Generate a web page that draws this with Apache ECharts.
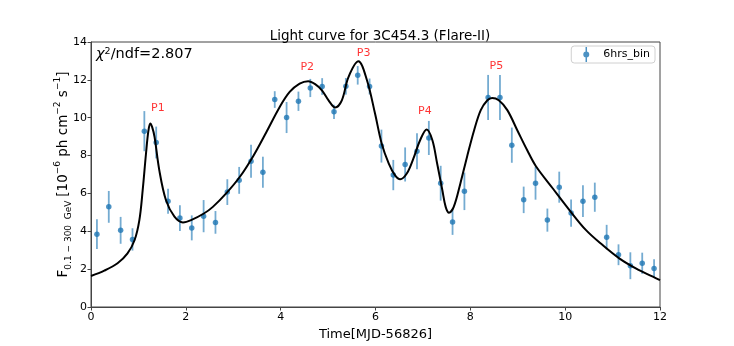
<!DOCTYPE html>
<html>
<head>
<meta charset="utf-8">
<script src="https://cdn.jsdelivr.net/npm/echarts@6/dist/echarts.min.js"></script>
<style>
html,body{margin:0;padding:0;background:#fff;}
#chart{width:734px;height:346px;}
</style>
</head>
<body>
<div id="chart"></div>
<script>
// ---- data ----
var times = [0.125,0.375,0.625,0.875,1.125,1.375,1.625,1.875,2.125,2.375,2.625,2.875,3.125,3.375,3.625,3.875,4.125,4.375,4.625,4.875,5.125,5.375,5.625,5.875,6.125,6.375,6.625,6.875,7.125,7.375,7.625,7.875,8.375,8.625,8.875,9.125,9.375,9.625,9.875,10.125,10.375,10.625,10.875,11.125,11.375,11.625,11.875];
var flux = [3.85,5.29,4.05,3.57,9.29,8.69,5.59,4.70,4.18,4.80,4.47,6.07,6.69,7.70,7.12,10.96,10.01,10.87,11.57,11.65,10.31,11.66,12.24,11.65,8.50,6.97,7.53,8.23,8.93,6.54,4.49,6.11,11.07,11.07,8.55,5.66,6.54,4.59,6.33,4.96,5.59,5.80,3.69,2.76,2.18,2.31,2.04];
var fluxErr = [0.78,0.84,0.71,0.59,1.06,0.84,0.66,0.68,0.66,0.85,0.60,0.68,0.71,0.87,0.82,0.44,0.82,0.51,0.48,0.44,0.38,0.44,0.49,0.42,0.87,0.80,0.90,0.95,0.90,0.92,0.68,0.99,1.19,1.19,0.93,0.70,0.87,0.61,0.82,0.72,0.84,0.77,0.65,0.55,0.71,0.56,0.48];
var fitX = [0,0.28,0.56,0.77,0.92,1.02,1.09,1.16,1.21,1.25,1.29,1.34,1.44,1.58,1.76,1.94,2.11,2.38,2.57,2.86,3.14,3.42,3.70,3.98,4.19,4.40,4.58,4.74,4.87,5.01,5.15,5.29,5.43,5.64,5.82,5.99,6.13,6.28,6.41,6.52,6.66,6.80,6.94,7.08,7.20,7.30,7.41,7.48,7.55,7.65,7.79,7.93,8.08,8.22,8.36,8.46,8.60,8.78,8.99,9.20,9.38,9.74,10.09,10.44,10.79,11.14,11.49,11.85,12];
var fitY = [1.64,1.92,2.31,2.83,3.54,4.59,6.17,8.11,9.30,9.69,9.50,8.99,7.23,5.65,4.77,4.47,4.59,4.94,5.29,6.03,6.88,7.97,9.25,10.57,11.36,11.80,11.93,11.75,11.45,10.92,10.54,10.92,12.15,12.98,11.98,10.22,8.64,7.58,6.97,6.75,7.05,7.85,8.81,9.38,8.81,7.58,6.17,5.29,4.98,5.29,6.53,7.93,9.34,10.40,10.92,11.04,10.92,10.40,9.34,8.28,7.45,6.26,5.12,4.06,3.27,2.57,2.04,1.60,1.42];
var peakNames = ['P1','P2','P3','P4','P5'];
var peakX = [1.41,4.56,5.75,7.04,8.55];
var peakY = [10.49,12.68,13.42,10.34,12.72];
var xTicks = [0,2,4,6,8,10,12];
var yTicks = [0,2,4,6,8,10,12,14];

// ---- build ----
var pts = [], bars = [], fit = [], peaks = [];
for (var i = 0; i < times.length; i++) {
  pts.push([times[i], flux[i]]);
  bars.push([times[i], flux[i] - fluxErr[i], flux[i] + fluxErr[i]]);
}
for (var j = 0; j < fitX.length; j++) fit.push([fitX[j], fitY[j]]);
for (var k = 0; k < peakNames.length; k++) peaks.push({value: [peakX[k], peakY[k]], name: peakNames[k]});

var FONT = 'DejaVu Sans';
var chart = echarts.init(document.getElementById('chart'), null, {renderer: 'canvas'});
chart.setOption({
  animation: false,
  backgroundColor: '#fff',
  textStyle: {fontFamily: FONT},
  title: {
    text: 'Light curve for 3C454.3 (Flare-II)',
    left: 375, top: 24, textAlign: 'center',
    textStyle: {fontFamily: FONT, fontSize: 13.5, fontWeight: 'normal', color: '#000'}
  },
  grid: {left: 91, right: 74, top: 42, bottom: 39, show: true, borderColor: '#444', borderWidth: 1, backgroundColor: 'transparent'},
  legend: {
    right: 79, top: 46,
    data: [{name: '6hrs_bin', icon: 'path://M9,0 L11,0 L11,20 L9,20 Z M10,6 A4,4 0 1 1 9.99,6 Z'}],
    itemWidth: 8, itemHeight: 15, itemGap: 10,
    padding: [1, 5, 1, 12],
    backgroundColor: '#fff', borderColor: '#d0d0d0', borderWidth: 1, borderRadius: 3,
    textStyle: {fontFamily: FONT, fontSize: 11, color: '#000', padding: [0, 0, 0, 8]}
  },
  graphic: [{
    type: 'text', left: 96, top: 47,
    style: {
      text: '{i|χ}{s|2}{n|/ndf=2.807}',
      rich: {
        i: {fontFamily: FONT, fontSize: 14.5, fontStyle: 'italic', fill: '#000', verticalAlign: 'bottom'},
        s: {fontFamily: FONT, fontSize: 9.5, fill: '#000', verticalAlign: 'top'},
        n: {fontFamily: FONT, fontSize: 14.5, fill: '#000', verticalAlign: 'bottom'}
      }
    }
  }],
  xAxis: {
    type: 'value', min: 0, max: 12, interval: 2,
    name: 'Time[MJD-56826]', nameLocation: 'middle', nameGap: 15,
    nameTextStyle: {fontFamily: FONT, fontSize: 13, color: '#000'},
    axisLine: {show: true, onZero: false, lineStyle: {color: '#444', width: 1}},
    axisTick: {show: true, length: 3.5, lineStyle: {color: '#444'}},
    axisLabel: {fontFamily: FONT, fontSize: 11, color: '#000', margin: 5,
      formatter: function (v) { return xTicks.indexOf(v) >= 0 ? String(v) : ''; }},
    splitLine: {show: false}
  },
  yAxis: {
    type: 'value', min: 0, max: 14, interval: 2,
    name: '{b|F}{sub|0.1 − 300  GeV} {b|[10}{sup|−6}{b| ph cm}{sup|−2}{b| s}{sup|−1}{b|]}',
    nameLocation: 'middle', nameGap: 18, nameRotate: 90, nameMoveOverlap: false,
    nameTextStyle: {
      rich: {
        b: {fontFamily: FONT, fontSize: 13.5, color: '#000', verticalAlign: 'middle', lineHeight: 20},
        sub: {fontFamily: FONT, fontSize: 9, color: '#000', verticalAlign: 'bottom', lineHeight: 20},
        sup: {fontFamily: FONT, fontSize: 9, color: '#000', verticalAlign: 'top', lineHeight: 20}
      }
    },
    axisLine: {show: true, lineStyle: {color: '#444', width: 1}},
    axisTick: {show: true, length: 3.5, lineStyle: {color: '#444'}},
    axisLabel: {fontFamily: FONT, fontSize: 11, color: '#000', margin: 4,
      formatter: function (v) { return yTicks.indexOf(v) >= 0 ? String(v) : ''; }},
    splitLine: {show: false}
  },
  series: [
    {
      type: 'custom', name: 'errbars', data: bars, z: 2, silent: true,
      encode: {x: 0, y: [1, 2]},
      renderItem: function (params, api) {
        var x = api.value(0);
        var a = api.coord([x, api.value(1)]);
        var b = api.coord([x, api.value(2)]);
        return {type: 'line', shape: {x1: a[0], y1: a[1], x2: b[0], y2: b[1]},
          style: {stroke: 'rgba(31,119,180,0.62)', lineWidth: 1.8}};
      }
    },
    {
      type: 'scatter', name: '6hrs_bin', data: pts, symbol: 'circle', symbolSize: 5.5, z: 3,
      itemStyle: {color: '#1f77b4'}
    },
    {
      type: 'line', name: 'fit', data: fit, smooth: 0.35, showSymbol: false, z: 4,
      lineStyle: {color: '#000', width: 2}
    },
    {
      type: 'scatter', name: 'peaks', data: peaks, symbolSize: 0, silent: true, z: 5,
      label: {show: true, position: 'inside', formatter: '{b}', fontFamily: FONT, fontSize: 11, color: '#ff0000'}
    }
  ]
});
</script>
</body>
</html>
